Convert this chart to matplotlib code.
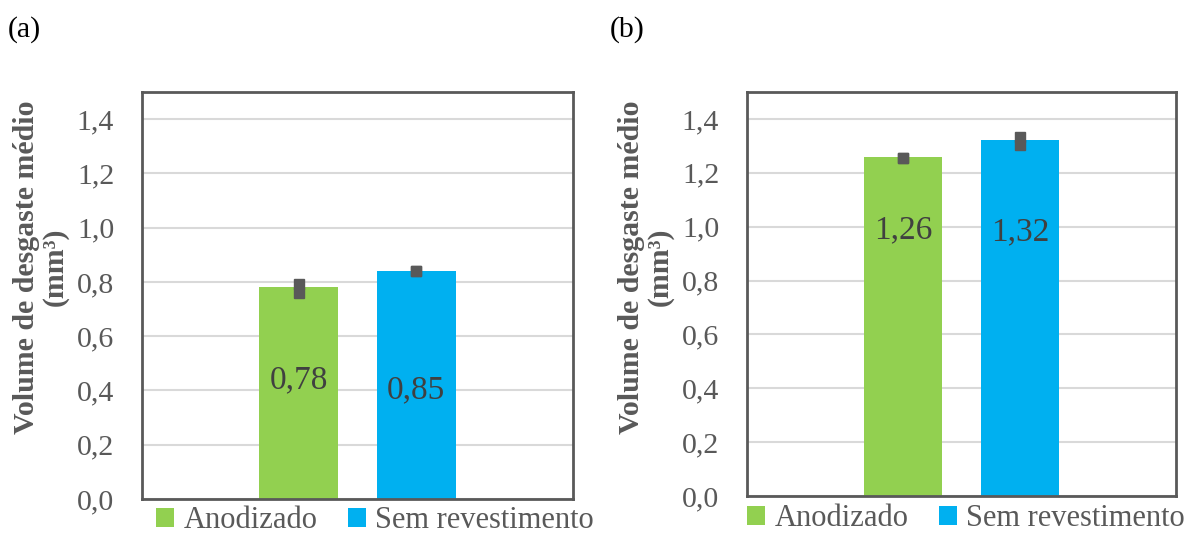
import matplotlib
matplotlib.use("Agg")
import matplotlib.pyplot as plt
from matplotlib.patches import Patch

plt.rcParams['font.family'] = ['Liberation Serif', 'DejaVu Serif']

series = ["Anodizado", "Sem revestimento"]
colors = ["#92D050", "#00B0F0"]
values_a = [0.78, 0.84]
values_b = [1.26, 1.32]
labels_a = ["0,78", "0,85"]
labels_b = ["1,26", "1,32"]
label_y_a = [0.438, 0.40]
label_y_b = [0.988, 0.98]
err_pts_a = [[0.794, 0.760], [0.840, 0.840]]
err_pts_b = [[1.256, 1.256], [1.334, 1.304]]
yticks = [0.0, 0.2, 0.4, 0.6, 0.8, 1.0, 1.2, 1.4]
ytick_labels = ["0,0", "0,2", "0,4", "0,6", "0,8", "1,0", "1,2", "1,4"]
ylabel = "Volume de desgaste médio\n(mm³)"

W, H = 1201, 535
fig = plt.figure(figsize=(W / 100, H / 100), dpi=100)

GREY = "#595959"

def make_ax(left, top, right, bottom):
    return fig.add_axes([left / W, 1 - bottom / H, (right - left) / W, (bottom - top) / H])

def draw(ax, values, labels, label_y, err_pts):
    xs = [-0.136, 0.136]
    for x, v, c, lab, ly, ep in zip(xs, values, colors, labels, label_y, err_pts):
        ax.bar(x, v, width=0.183, color=c, zorder=2)
        ax.text(x, ly, lab, ha='center', va='center', fontsize=24, color="#404040", zorder=4)
        ax.plot([x] * len(ep), ep, 's', color=GREY, markersize=7.5, zorder=3)
    ax.set_xlim(-0.5, 0.5)
    ax.set_ylim(0, 1.5)
    ax.set_yticks(yticks)
    ax.set_yticklabels(ytick_labels)
    ax.set_xticks([])
    ax.tick_params(axis='y', length=0, pad=20, labelsize=21.5, labelcolor=GREY)
    ax.grid(axis='y', color="#d9d9d9", linewidth=1.5, zorder=0)
    ax.set_axisbelow(True)
    for s in ax.spines.values():
        s.set_color(GREY)
        s.set_linewidth(2)

ax1 = make_ax(142, 92, 573, 499)
draw(ax1, values_a, labels_a, label_y_a, err_pts_a)
ax2 = make_ax(747, 92, 1176, 496)
draw(ax2, values_b, labels_b, label_y_b, err_pts_b)

for xc, yc in [(41 / W, 1 - 267 / H), (646 / W, 1 - 267 / H)]:
    fig.text(xc, yc, ylabel, rotation=90, ha='center', va='center', fontsize=21.5,
             fontweight='bold', color=GREY, multialignment='center', linespacing=1.1)

fig.text(8 / W, 1 - 30 / H, "(a)", fontsize=21.5, va='center', ha='left', color='black')
fig.text(610 / W, 1 - 30 / H, "(b)", fontsize=21.5, va='center', ha='left', color='black')

handles = [Patch(facecolor=c, edgecolor='none') for c in colors]
for xc, yc in [(375 / W, 1 - 521 / H), (966 / W, 1 - 519 / H)]:
    fig.legend(handles, series, loc='center', bbox_to_anchor=(xc, yc), ncol=2, frameon=False,
               fontsize=22, handlelength=0.6, handleheight=0.6, handletextpad=0.3,
               columnspacing=1.0, labelcolor=GREY, borderpad=0, borderaxespad=0)

fig.savefig("out.png", dpi=100)
